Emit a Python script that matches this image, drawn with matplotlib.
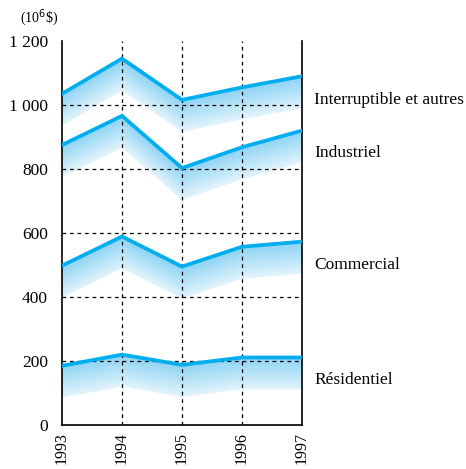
import numpy as np
import matplotlib
matplotlib.use("Agg")
import matplotlib.pyplot as plt
from matplotlib.colors import LinearSegmentedColormap
from matplotlib.patches import Polygon

years = [1993, 1994, 1995, 1996, 1997]
interruptible = [1035, 1145, 1016, 1055, 1090]
industriel = [875, 966, 803, 868, 920]
commercial = [498, 589, 495, 557, 573]
residentiel = [185, 220, 188, 211, 211]
series = [interruptible, industriel, commercial, residentiel]
labels = ["Interruptible et autres", "Industriel", "Commercial", "Résidentiel"]
label_y = [1016, 850, 500, 141]
band_depth = 100
yticks = [0, 200, 400, 600, 800, 1000, 1200]
ytick_labels = ["0", "200", "400", "600", "800", "1 000", "1 200"]

plt.rcParams['font.family'] = ['Liberation Serif', 'DejaVu Serif']

fig = plt.figure(figsize=(4.66, 4.69), dpi=100)
ax = fig.add_axes([62/466, 1-425/469, 240/466, 384/469])
ax.set_xlim(1993, 1997)
ax.set_ylim(0, 1200)

line_color = "#00aeef"
cmap = LinearSegmentedColormap.from_list("band", ["#e3f4fc", "#8bd3f4"])

for vals in series:
    v = np.array(vals, dtype=float)
    x = np.array(years, dtype=float)
    top = np.column_stack([x, v])
    bot = np.column_stack([x[::-1], (v - band_depth)[::-1]])
    poly = Polygon(np.vstack([top, bot]), closed=True, facecolor="none", edgecolor="none")
    ax.add_patch(poly)
    lo = (v - band_depth).min()
    hi = v.max()
    nx = 400
    ny = 300
    xs = np.linspace(1993, 1997, nx)
    ys = np.linspace(lo, hi, ny)
    top_i = np.interp(xs, x, v)
    frac = (ys[:, None] - (top_i[None, :] - band_depth)) / band_depth
    frac = np.clip(frac, 0, 1)
    im = ax.imshow(frac, extent=[1993, 1997, lo, hi], origin="lower", cmap=cmap,
                   vmin=0, vmax=1, aspect="auto", zorder=1, interpolation="bilinear")
    im.set_clip_path(poly)
    ax.plot(years, vals, color=line_color, lw=2.7, zorder=3, solid_joinstyle="miter")

for yv in [200, 400, 600, 800, 1000]:
    ax.axhline(yv, color="black", lw=0.9, ls=(0, (3, 3)), zorder=2)
for xv in [1994, 1995, 1996]:
    ax.axvline(xv, color="black", lw=0.9, ls=(0, (3, 3)), zorder=2)

ax.spines['top'].set_visible(False)
for s in ['left', 'right', 'bottom']:
    ax.spines[s].set_linewidth(1.2)
    ax.spines[s].set_color("black")

ax.set_yticks(yticks)
ax.set_yticklabels(ytick_labels, fontsize=12.5)
ax.set_xticks(years)
ax.set_xticklabels([str(y) for y in years], rotation=90, fontsize=11.5)
ax.tick_params(axis='y', length=0, pad=10)
ax.tick_params(axis='x', length=0, pad=5)

for lab, ly in zip(labels, label_y):
    ax.text(1997.2, ly, lab, fontsize=12.5, va="center", ha="left", clip_on=False)

fig.text(20/466, 1-18/469, "(10$^6$\\$)", fontsize=10, va="center", ha="left")

fig.savefig("out.png", dpi=100)
